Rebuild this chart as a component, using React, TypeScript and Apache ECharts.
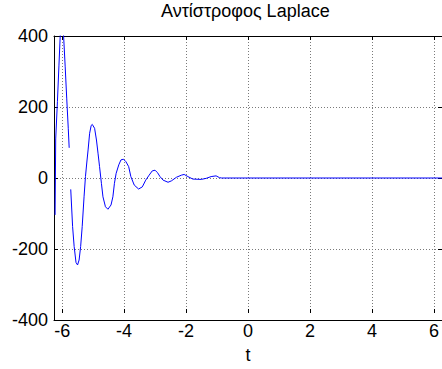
import React, { useEffect, useRef } from "react";
import * as echarts from "echarts";

// Axis ranges and ticks
const X_MIN = -6.26;
const X_MAX = 6.26;
const X_TICK_MIN = -6;
const X_TICK_MAX = 6;
const X_TICK_STEP = 2;
const Y_MIN = -400;
const Y_MAX = 400;
const Y_TICK_STEP = 200;

// First branch (before the jump)
const tBranch1 = [-6.225, -6.205, -6.15, -6.1, -6.06, -6.03, -6.0, -5.97, -5.95, -5.9, -5.85, -5.8, -5.77];
const vBranch1 = [-104, 110, 215, 318, 400, 450, 462, 440, 400, 315, 225, 140, 85];

// Second branch (damped oscillation, then flat)
const tBranch2 = [
  -5.72, -5.66, -5.61, -5.55, -5.5, -5.45, -5.4, -5.35, -5.29, -5.245,
  -5.2, -5.16, -5.11, -5.06, -5.025, -4.95, -4.89, -4.84, -4.79, -4.73,
  -4.68, -4.6, -4.52, -4.42, -4.36, -4.31, -4.255, -4.17, -4.1, -4.02,
  -3.94, -3.85, -3.78, -3.67, -3.53, -3.41, -3.3, -3.19, -3.09, -3.0,
  -2.92, -2.84, -2.74, -2.58, -2.47, -2.31, -2.15, -2.06, -1.94, -1.78,
  -1.51, -1.35, -1.19, -1.03, -0.92, -0.85, 0, 2, 4, 6.26,
];
const vBranch2 = [
  -32, -137, -193, -238, -245, -231, -193, -137, -53, 4,
  45, 79, 126, 148, 151, 140, 107, 70, 32, -15,
  -53, -81, -88, -76, -53, -15, 13, 37, 51, 53,
  46, 32, 4, -20, -31, -25, -6, 8, 20, 22,
  15, 4, -6, -12, -8, 2, 8, 10, 4, -3,
  -4, -1, 4, 6, 1, 0, 0, 0, 0, 0,
];

const TITLE = "Αντίστροφος Laplace";
const X_NAME = "t";

const FONT = 'Arial, "Liberation Sans", sans-serif';

export default function App() {
  const ref = useRef<HTMLDivElement>(null);

  useEffect(() => {
    document.body.style.margin = "0";
    if (!ref.current) return;
    const chart = echarts.init(ref.current, undefined, { renderer: "svg" });

    const data: any[] = [];
    tBranch1.forEach((t, i) => data.push([t, vBranch1[i]]));
    data.push([(tBranch1[tBranch1.length - 1] + tBranch2[0]) / 2, null]);
    tBranch2.forEach((t, i) => data.push([t, vBranch2[i]]));

    const gridTop = 36;
    const gridHeight = 284;
    const left0 = 54;
    const width0 = 392;
    const pxPerUnit = width0 / (X_MAX - X_MIN);
    const left1 = left0 + (X_TICK_MIN - X_MIN) * pxPerUnit;
    const width1 = (X_TICK_MAX - X_TICK_MIN) * pxPerUnit;

    const gridLine = { color: "#7a7a7a", width: 1, type: [1, 2] as any };
    const blackLine = { color: "#000", width: 1 };
    const labelStyle = { color: "#000", fontSize: 18, fontFamily: FONT };

    chart.setOption({
      animation: false,
      backgroundColor: "#fff",
      title: {
        text: TITLE,
        left: 161,
        top: 2,
        padding: 0,
        textStyle: { color: "#000", fontSize: 18, fontWeight: "normal", fontFamily: FONT },
      },
      grid: [
        { left: left0, top: gridTop, width: width0, height: gridHeight },
        { left: left1, top: gridTop, width: width1, height: gridHeight },
      ],
      xAxis: [
        {
          type: "value", gridIndex: 0, position: "bottom", min: X_MIN, max: X_MAX,
          axisLine: { show: true, onZero: false, lineStyle: blackLine },
          axisTick: { show: false }, axisLabel: { show: false }, splitLine: { show: false },
        },
        {
          type: "value", gridIndex: 0, position: "top", min: X_MIN, max: X_MAX,
          axisLine: { show: true, onZero: false, lineStyle: blackLine },
          axisTick: { show: false }, axisLabel: { show: false }, splitLine: { show: false },
        },
        {
          type: "value", gridIndex: 1, position: "bottom",
          min: X_TICK_MIN, max: X_TICK_MAX, interval: X_TICK_STEP,
          axisLine: { show: false, onZero: false },
          axisTick: { show: true, inside: true, length: 4, lineStyle: blackLine },
          axisLabel: { show: true, margin: 9, ...labelStyle },
          splitLine: { show: true, lineStyle: gridLine },
          name: X_NAME, nameLocation: "middle", nameGap: 33,
          nameTextStyle: { ...labelStyle },
        },
        {
          type: "value", gridIndex: 1, position: "top",
          min: X_TICK_MIN, max: X_TICK_MAX, interval: X_TICK_STEP,
          axisLine: { show: false, onZero: false },
          axisTick: { show: true, inside: true, length: 4, lineStyle: blackLine },
          axisLabel: { show: false }, splitLine: { show: false },
        },
      ],
      yAxis: [
        {
          type: "value", gridIndex: 0, position: "left",
          min: Y_MIN, max: Y_MAX, interval: Y_TICK_STEP,
          axisLine: { show: true, onZero: false, lineStyle: blackLine },
          axisTick: { show: true, inside: true, length: 4, lineStyle: blackLine },
          axisLabel: { show: true, margin: 6, ...labelStyle },
          splitLine: { show: true, lineStyle: gridLine },
        },
        {
          type: "value", gridIndex: 0, position: "right",
          min: Y_MIN, max: Y_MAX, interval: Y_TICK_STEP,
          axisLine: { show: true, onZero: false, lineStyle: blackLine },
          axisTick: { show: true, inside: true, length: 4, lineStyle: blackLine },
          axisLabel: { show: false }, splitLine: { show: false },
        },
        {
          type: "value", gridIndex: 1, min: Y_MIN, max: Y_MAX, show: false,
        },
      ],
      series: [
        {
          type: "line",
          xAxisIndex: 0,
          yAxisIndex: 0,
          data,
          showSymbol: false,
          symbol: "none",
          connectNulls: false,
          clip: true,
          lineStyle: { color: "#0000ff", width: 1 },
          z: 5,
        },
      ],
    });

    return () => chart.dispose();
  }, []);

  return <div ref={ref} style={{ width: 442, height: 369 }} />;
}
